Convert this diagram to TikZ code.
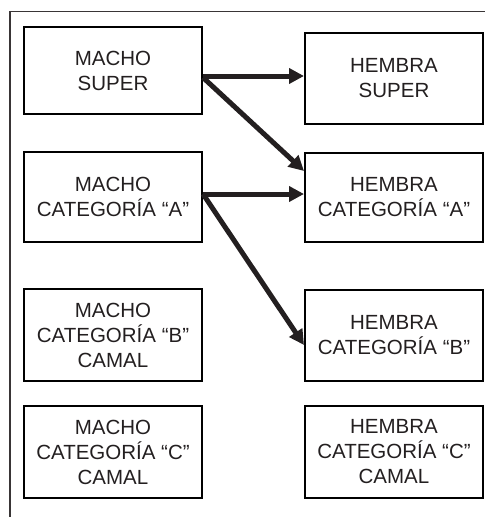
\documentclass[tikz,border=0pt]{standalone}
\usepackage{fontspec}
\setmainfont{Liberation Sans}
\usetikzlibrary{arrows.meta}
\definecolor{ink}{HTML}{231F20}
\begin{document}
\begin{tikzpicture}[x=1pt,y=-1pt,
  box/.style={draw=black,line width=2pt,minimum width=178pt,align=center,
    inner sep=0pt,font=\fontsize{20.5}{25}\selectfont,text=ink},
  conn/.style={draw=ink,line width=5pt,-{Triangle[length=15pt,width=15pt]}}]
\useasboundingbox (0,0) rectangle (485,517);
% outer frame, open at the right and bottom
\draw[line width=1.2pt,draw=ink!90] (10,517) -- (10,11.5) -- (485,11.5);
% males
\node[box,minimum height=87pt] (ms) at (113,70.5) {MACHO\\SUPER};
\node[box,minimum height=90pt] (ma) at (113,197) {MACHO\\CATEGORÍA “A”};
\node[box,minimum height=92pt] (mb) at (113,335) {MACHO\\CATEGORÍA “B”\\CAMAL};
\node[box,minimum height=92pt] (mc) at (113,452) {MACHO\\CATEGORÍA “C”\\CAMAL};
% females
\node[box,minimum height=91pt] (hs) at (394,78.5) {HEMBRA\\SUPER};
\node[box,minimum height=89pt] (ha) at (394,197.5) {HEMBRA\\CATEGORÍA “A”};
\node[box,minimum height=91pt] (hb) at (394,335.5) {HEMBRA\\CATEGORÍA “B”};
\node[box,minimum height=92pt] (hc) at (394,452) {HEMBRA\\CATEGORÍA “C”\\CAMAL};
% crossings
\draw[conn] ([yshift=-5.5pt]ms.east) -- ([yshift=2.5pt]hs.west);
\draw[conn] ([yshift=-7pt]ms.east) -- ([yshift=-19pt]ha.north west);
\draw[conn] ([yshift=3pt]ma.east) -- ([yshift=3.5pt]ha.west);
\draw[conn] ([yshift=3pt]ma.east) -- ([yshift=-9.5pt]hb.west);
\end{tikzpicture}
\end{document}
